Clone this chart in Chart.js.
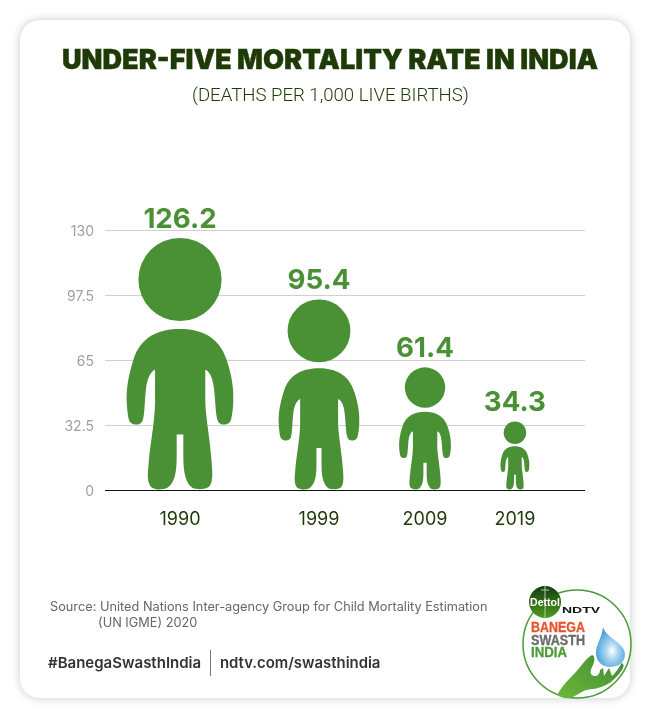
<!DOCTYPE html>
<html>
<head>
<meta charset="utf-8">
<script src="https://cdn.jsdelivr.net/npm/chart.js@4"></script>
<style>
  html, body { margin: 0; padding: 0; background: #fff; }
  #page { position: relative; width: 650px; height: 718px; overflow: hidden; font-family: Inter, sans-serif; }
  #card { position: absolute; left: 20px; top: 20px; width: 610px; height: 678px; background: #fff; border-radius: 20px; box-shadow: 0 0 10px rgba(0,0,0,.22); }
  canvas { position: absolute; left: 0; top: 0; }
  .txt { position: absolute; white-space: nowrap; }
  #title { left: 62px; top: 42px; font: 900 27.15px/36px Inter, sans-serif; color: #1e3a06; -webkit-text-stroke: .4px #1e3a06; }
  #sub { left: 192px; top: 83px; font: 300 18.6px/24px Roboto, sans-serif; color: #1e3a06; }
  #src1 { left: 50px; top: 598px; font: 400 12.75px/17px Inter, sans-serif; color: #666; }
  #src2 { left: 98px; top: 614px; font: 400 12.75px/17px Inter, sans-serif; color: #666; }
  #tag { left: 48px; top: 653px; font: 600 15px/20px Inter, sans-serif; color: #333; }
  #url { left: 220px; top: 653px; font: 600 14.9px/20px Inter, sans-serif; color: #333; }
  #sep { position: absolute; left: 210px; top: 650px; width: 1px; height: 26px; background: #777; }
  #logo { position: absolute; left: 0; top: 0; }
</style>
</head>
<body>
<div id="page">
  <div id="card"></div>
  <canvas id="chart" width="650" height="718"></canvas>
  <div class="txt" id="title">UNDER-FIVE MORTALITY RATE IN INDIA</div>
  <div class="txt" id="sub">(DEATHS PER 1,000 LIVE BIRTHS)</div>
  <div class="txt" id="src1">Source: United Nations Inter-agency Group for Child Mortality Estimation</div>
  <div class="txt" id="src2">(UN IGME) 2020</div>
  <div class="txt" id="tag">#BanegaSwasthIndia</div>
  <div id="sep"></div>
  <div class="txt" id="url">ndtv.com/swasthindia</div>
  <svg id="logo" width="650" height="718" viewBox="0 0 650 718">
    <defs>
      <radialGradient id="drop" cx="0.55" cy="0.6" r="0.6">
        <stop offset="0" stop-color="#ffffff"/>
        <stop offset="0.35" stop-color="#a9d6f0"/>
        <stop offset="1" stop-color="#3f9bd8"/>
      </radialGradient>
      <linearGradient id="dettol" x1="0" y1="0" x2="0" y2="1">
        <stop offset="0" stop-color="#123d12"/>
        <stop offset="1" stop-color="#4f9a1e"/>
      </linearGradient>
      <linearGradient id="hand" x1="0" y1="1" x2="1" y2="0">
        <stop offset="0" stop-color="#6db83a"/>
        <stop offset="1" stop-color="#3f8a35"/>
      </linearGradient>
    </defs>
    <circle cx="577" cy="644" r="54" fill="#fff" stroke="#4a9a35" stroke-width="1.5"/>
    <path d="M603 627 C606 638 625 643 625 654 C625 663 618 667 610 667 C602 667 596 661 596 653 C596 644 602 638 603 627 Z" fill="url(#drop)"/>
    <path d="M557 695 C563 685 568 680 574 674 C580 668 585 659 592 655 C595 656 595 660 593 665 C591 669 590 672 591 674 C594 678 600 676 600 670 L603 668 L604 676 L609 668 L612 676 C616 673 619 667 622 663 C624 664 624 667 622 670 C617 677 612 682 606 685 C598 689 592 689 586 690 C580 692 575 697 570 698 C565 699 560 697 557 695 Z" fill="url(#hand)"/>
    <circle cx="545" cy="602" r="16" fill="url(#dettol)"/>
    <path d="M545 585 V619 M541 590 H549" stroke="#b9c9a8" stroke-width="1" fill="none"/>
    <text x="530" y="605.5" font-family="Liberation Sans" font-weight="700" font-size="11.5" textLength="30" lengthAdjust="spacingAndGlyphs" fill="#fff">Dettol</text>
    <text x="562" y="613" font-family="Liberation Sans" font-weight="700" font-size="9.5" textLength="38" lengthAdjust="spacingAndGlyphs" fill="#111">NDTV</text>
    <text x="531" y="632" font-family="Liberation Sans" font-weight="700" font-size="14" textLength="54" lengthAdjust="spacingAndGlyphs" fill="#e8532b" stroke="#e8532b" stroke-width=".3">BANEGA</text>
    <text x="531" y="645" font-family="Liberation Sans" font-weight="700" font-size="14" textLength="54" lengthAdjust="spacingAndGlyphs" fill="#6a6a6a" stroke="#6a6a6a" stroke-width=".3">SWASTH</text>
    <text x="531" y="657" font-family="Liberation Sans" font-weight="700" font-size="14" textLength="36" lengthAdjust="spacingAndGlyphs" fill="#4c9c35" stroke="#4c9c35" stroke-width=".3">INDIA</text>
  </svg>
</div>
<script>
const categories = ['1990', '1999', '2009', '2019'];
const rates = [126.2, 95.4, 61.4, 34.3];
const yTicks = [0, 32.5, 65, 97.5, 130];

// the source spaces the figures by hand, so the x axis is a 0..1 strip
const slots = [0.15625, 0.4458, 0.6667, 0.854];

const GREEN = '#4a9136';

// figure outline, traced at 757 units tall with the centre line at x=238 and top at y=143
const FIG_H = 757, FIG_CX = 238, FIG_TOP = 143;
const body = new Path2D('M238 418 C300 418 355 440 378 510 C395 560 400 600 398 640 C396 670 393 690 388 697 C378 708 358 708 352 695 C345 680 345 640 340 595 C336 565 328 545 314 540 L314 640 C316 690 330 760 334 830 C336 860 336 880 325 892 C315 900 290 902 275 895 C255 880 248 850 248 800 L248 735 L228 735 L228 800 C228 850 222 880 200 895 C185 902 165 902 152 893 C140 880 140 860 143 830 C147 770 162 700 163 640 L163 540 C150 545 140 565 136 595 C131 640 132 680 125 695 C118 708 98 708 88 697 C82 690 80 670 78 640 C76 600 82 560 98 510 C120 440 175 418 238 418 Z');

const figures = {
  id: 'figures',
  // Inter sits high on a middle baseline, nudge the y tick labels down
  beforeDraw(chart) {
    chart.scales.y.getLabelItems().forEach(item => { item.options.translation[1] += 1.5; });
  },
  afterDatasetsDraw(chart) {
    const ctx = chart.ctx;
    chart.getDatasetMeta(0).data.forEach((bar, i) => {
      const s = (bar.base - bar.y) / FIG_H;
      ctx.save();
      ctx.translate(bar.x, bar.y);
      ctx.scale(s, s);
      ctx.translate(-FIG_CX, -FIG_TOP);
      ctx.fillStyle = GREEN;
      ctx.fill(body);
      ctx.beginPath();
      ctx.arc(238, 269, 125, 0, Math.PI * 2);
      ctx.fill();
      ctx.restore();

      ctx.fillStyle = GREEN;
      ctx.font = '700 27.7px Inter, sans-serif';
      ctx.textAlign = 'center';
      ctx.textBaseline = 'alphabetic';
      ctx.fillText(String(rates[i]), bar.x, bar.y - 10);
    });
  }
};

new Chart(document.getElementById('chart'), {
  type: 'bar',
  data: {
    datasets: [{
      data: rates.map((v, i) => ({ x: slots[i], y: v })),
      backgroundColor: 'transparent',
      borderWidth: 0,
      barThickness: 10
    }]
  },
  plugins: [figures],
  options: {
    responsive: false,
    animation: false,
    layout: { padding: { top: 230, right: 65, left: 0, bottom: 0 } },
    plugins: { legend: { display: false }, tooltip: { enabled: false } },
    scales: {
      x: {
        type: 'linear',
        offset: false,
        min: 0,
        max: 1,
        afterFit: s => { s.height = 228; },
        afterBuildTicks: s => { s.ticks = slots.map(v => ({ value: v })); },
        grid: { display: false },
        border: { display: false },
        ticks: {
          autoSkip: false,
          maxRotation: 0,
          padding: 11,
          color: '#1e3a06',
          font: { family: 'Inter, sans-serif', size: 18 },
          callback: v => categories[slots.indexOf(v)]
        }
      },
      y: {
        min: 0,
        max: 130,
        afterFit: s => { s.width = 105; },
        afterBuildTicks: s => { s.ticks = yTicks.map(v => ({ value: v })); },
        grid: {
          drawTicks: false,
          color: c => c.tick.value === 0 ? '#111' : '#cfcfcf',
          lineWidth: 1
        },
        border: { display: false },
        ticks: {
          padding: 11,
          color: '#a0a0a0',
          font: { family: 'Inter, sans-serif', size: 14 },
          callback: v => String(v)
        }
      }
    }
  }
});
</script>
</body>
</html>
